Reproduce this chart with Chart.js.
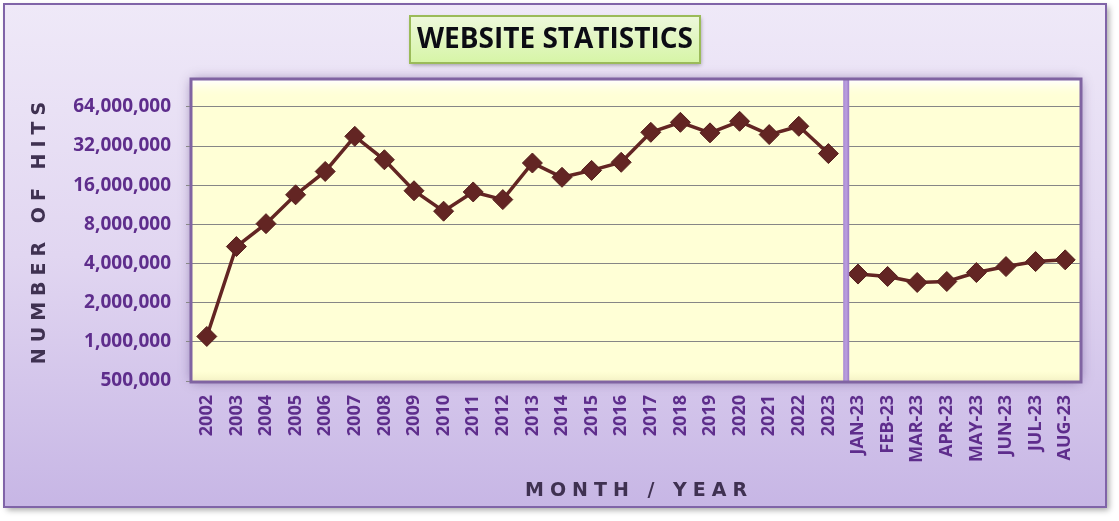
<!DOCTYPE html>
<html>
<head>
<meta charset="utf-8">
<title>Website Statistics</title>
<script src="https://cdn.jsdelivr.net/npm/chart.js@4.4.1/dist/chart.umd.min.js"></script>
<style>
  html, body { margin: 0; padding: 0; background: #ffffff; }
  #grafico { display: block; }
</style>
</head>
<body>
<canvas id="grafico" width="1119" height="521"></canvas>
<script>
//Dados
const anos = ["2002", "2003", "2004", "2005", "2006", "2007", "2008", "2009", "2010", "2011", "2012",
  "2013", "2014", "2015", "2016", "2017", "2018", "2019", "2020", "2021", "2022", "2023"];
const meses = ["JAN-23", "FEB-23", "MAR-23", "APR-23", "MAY-23", "JUN-23", "JUL-23", "AUG-23"];
const acessosAnuais = [1100000, 5400000, 8100000, 13500000, 20400000, 38000000, 25100000, 14500000,
  10100000, 14200000, 12400000, 23700000, 18400000, 20800000, 24000000, 40800000, 48700000,
  40400000, 49600000, 39200000, 45400000, 28000000];
const acessosMensais = [3320000, 3180000, 2860000, 2910000, 3410000, 3790000, 4140000, 4270000];
const ticksY = [500000, 1000000, 2000000, 4000000, 8000000, 16000000, 32000000, 64000000];

const labels = anos.concat(meses);
const serieAnual = acessosAnuais.concat(meses.map(() => null));
const serieMensal = anos.map(() => null).concat(acessosMensais);

const roxo = "#5e2d8c";
const vinho = "#632523";

//Fundo, título e moldura
const decoracao = {
  id: "decoracao",
  beforeDraw(chart) {
    const ctx = chart.ctx;
    const a = chart.chartArea;
    ctx.save();

    //moldura externa
    ctx.shadowColor = "rgba(0,0,0,0.35)";
    ctx.shadowBlur = 6;
    ctx.shadowOffsetX = 3;
    ctx.shadowOffsetY = 3;
    let g = ctx.createLinearGradient(0, 4, 0, 507);
    g.addColorStop(0, "#efe9f8");
    g.addColorStop(0.5, "#e1d6f1");
    g.addColorStop(1, "#c7b6e5");
    ctx.fillStyle = g;
    ctx.fillRect(4, 4, 1102, 503);
    ctx.shadowColor = "transparent";
    ctx.lineWidth = 2;
    ctx.strokeStyle = "#8064a8";
    ctx.strokeRect(4, 4, 1102, 503);

    //caixa do título
    ctx.shadowColor = "rgba(0,0,0,0.35)";
    ctx.shadowBlur = 4;
    ctx.shadowOffsetX = 1;
    ctx.shadowOffsetY = 2;
    g = ctx.createLinearGradient(0, 16, 0, 63);
    g.addColorStop(0, "#eef8dc");
    g.addColorStop(1, "#d6f5a6");
    ctx.fillStyle = g;
    ctx.fillRect(410, 16, 290, 47);
    ctx.shadowColor = "transparent";
    ctx.lineWidth = 2;
    ctx.strokeStyle = "#9bbb59";
    ctx.strokeRect(410, 16, 290, 47);
    ctx.fillStyle = "#0c0c14";
    ctx.font = "bold 28px 'Open Sans'";
    ctx.textAlign = "center";
    ctx.textBaseline = "middle";
    ctx.fillText("WEBSITE STATISTICS", 555, 40);

    //área do gráfico
    ctx.shadowColor = "rgba(70,40,110,0.55)";
    ctx.shadowBlur = 12;
    ctx.shadowOffsetX = 0;
    ctx.shadowOffsetY = 0;
    ctx.fillStyle = "#ffffd6";
    ctx.fillRect(a.left, a.top, a.right - a.left, a.bottom - a.top);
    ctx.shadowColor = "transparent";
    g = ctx.createLinearGradient(0, a.top, 0, a.top + 18);
    g.addColorStop(0, "#ffffff");
    g.addColorStop(1, "rgba(255,255,214,0)");
    ctx.fillStyle = g;
    ctx.fillRect(a.left, a.top, a.right - a.left, 18);
    g = ctx.createLinearGradient(0, a.bottom - 10, 0, a.bottom);
    g.addColorStop(0, "rgba(250,248,200,0)");
    g.addColorStop(1, "#f3f1c6");
    ctx.fillStyle = g;
    ctx.fillRect(a.left, a.bottom - 10, a.right - a.left, 10);
    ctx.restore();
  },
  afterDatasetsDraw(chart) {
    const ctx = chart.ctx;
    const a = chart.chartArea;
    const x = chart.scales.x;
    ctx.save();

    //separador entre anos e meses
    const xs = (x.getPixelForValue(anos.length - 1) + x.getPixelForValue(anos.length)) / 2 + 3;
    const g = ctx.createLinearGradient(xs - 3, 0, xs + 3, 0);
    g.addColorStop(0, "#a889d3");
    g.addColorStop(0.5, "#bba0de");
    g.addColorStop(1, "#9a78c8");
    ctx.fillStyle = g;
    ctx.fillRect(xs - 3, a.top, 6, a.bottom - a.top);

    //borda da área
    ctx.lineWidth = 3;
    ctx.strokeStyle = "#8064a2";
    ctx.strokeRect(a.left - 1, a.top - 1, a.right - a.left + 2, a.bottom - a.top + 2);
    ctx.restore();
  },
  afterDraw(chart) {
    const ctx = chart.ctx;
    const a = chart.chartArea;
    ctx.save();
    ctx.fillStyle = "#3f3151";
    ctx.font = "bold 19px 'DejaVu Sans'";
    ctx.textAlign = "center";
    ctx.textBaseline = "middle";
    ctx.letterSpacing = "6px";
    ctx.fillText("MONTH / YEAR", (a.left + a.right) / 2 + 3, 491);
    ctx.translate(40, 233);
    ctx.rotate(-Math.PI / 2);
    ctx.fillText("NUMBER OF HITS", 3, 0);
    ctx.restore();
  },
};

new Chart(document.getElementById("grafico"), {
  type: "line",
  data: {
    labels,
    datasets: [
      {
        label: "Anual",
        data: serieAnual,
        borderColor: vinho,
        backgroundColor: vinho,
        borderWidth: 3.5,
        pointStyle: "rectRot",
        pointRadius: 10,
        pointBorderWidth: 1,
        pointBorderColor: "#55201e",
        spanGaps: false,
        tension: 0,
      },
      {
        label: "Mensal",
        data: serieMensal,
        borderColor: vinho,
        backgroundColor: vinho,
        borderWidth: 3.5,
        pointStyle: "rectRot",
        pointRadius: 10,
        pointBorderWidth: 1,
        pointBorderColor: "#55201e",
        spanGaps: false,
        tension: 0,
      },
    ],
  },
  options: {
    responsive: false,
    animation: false,
    layout: { padding: { left: 0, right: 39, top: 80, bottom: 0 } },
    plugins: {
      legend: { display: false },
      title: { display: false },
      tooltip: { enabled: false },
    },
    scales: {
      x: {
        type: "category",
        offset: true,
        grid: { display: false, drawTicks: false },
        border: { display: false },
        ticks: {
          color: roxo,
          font: { family: "'Open Sans'", size: 18, weight: "bold" },
          minRotation: 90,
          maxRotation: 90,
          autoSkip: false,
          padding: 14,
        },
        afterFit: (scale) => { scale.height = 140; },
      },
      y: {
        type: "logarithmic",
        min: 500000,
        max: 103000000,
        grid: { color: "#868686", lineWidth: 1, tickLength: 6, tickColor: "#888888" },
        border: { display: false },
        ticks: {
          color: roxo,
          font: { family: "'Open Sans'", size: 19, weight: "bold" },
          padding: 15,
          callback: (v) => Number(v).toLocaleString("en-US"),
        },
        afterBuildTicks: (scale) => { scale.ticks = ticksY.map((v) => ({ value: v })); },
        afterFit: (scale) => { scale.width = 192; },
      },
    },
  },
  plugins: [decoracao],
});
</script>
</body>
</html>
